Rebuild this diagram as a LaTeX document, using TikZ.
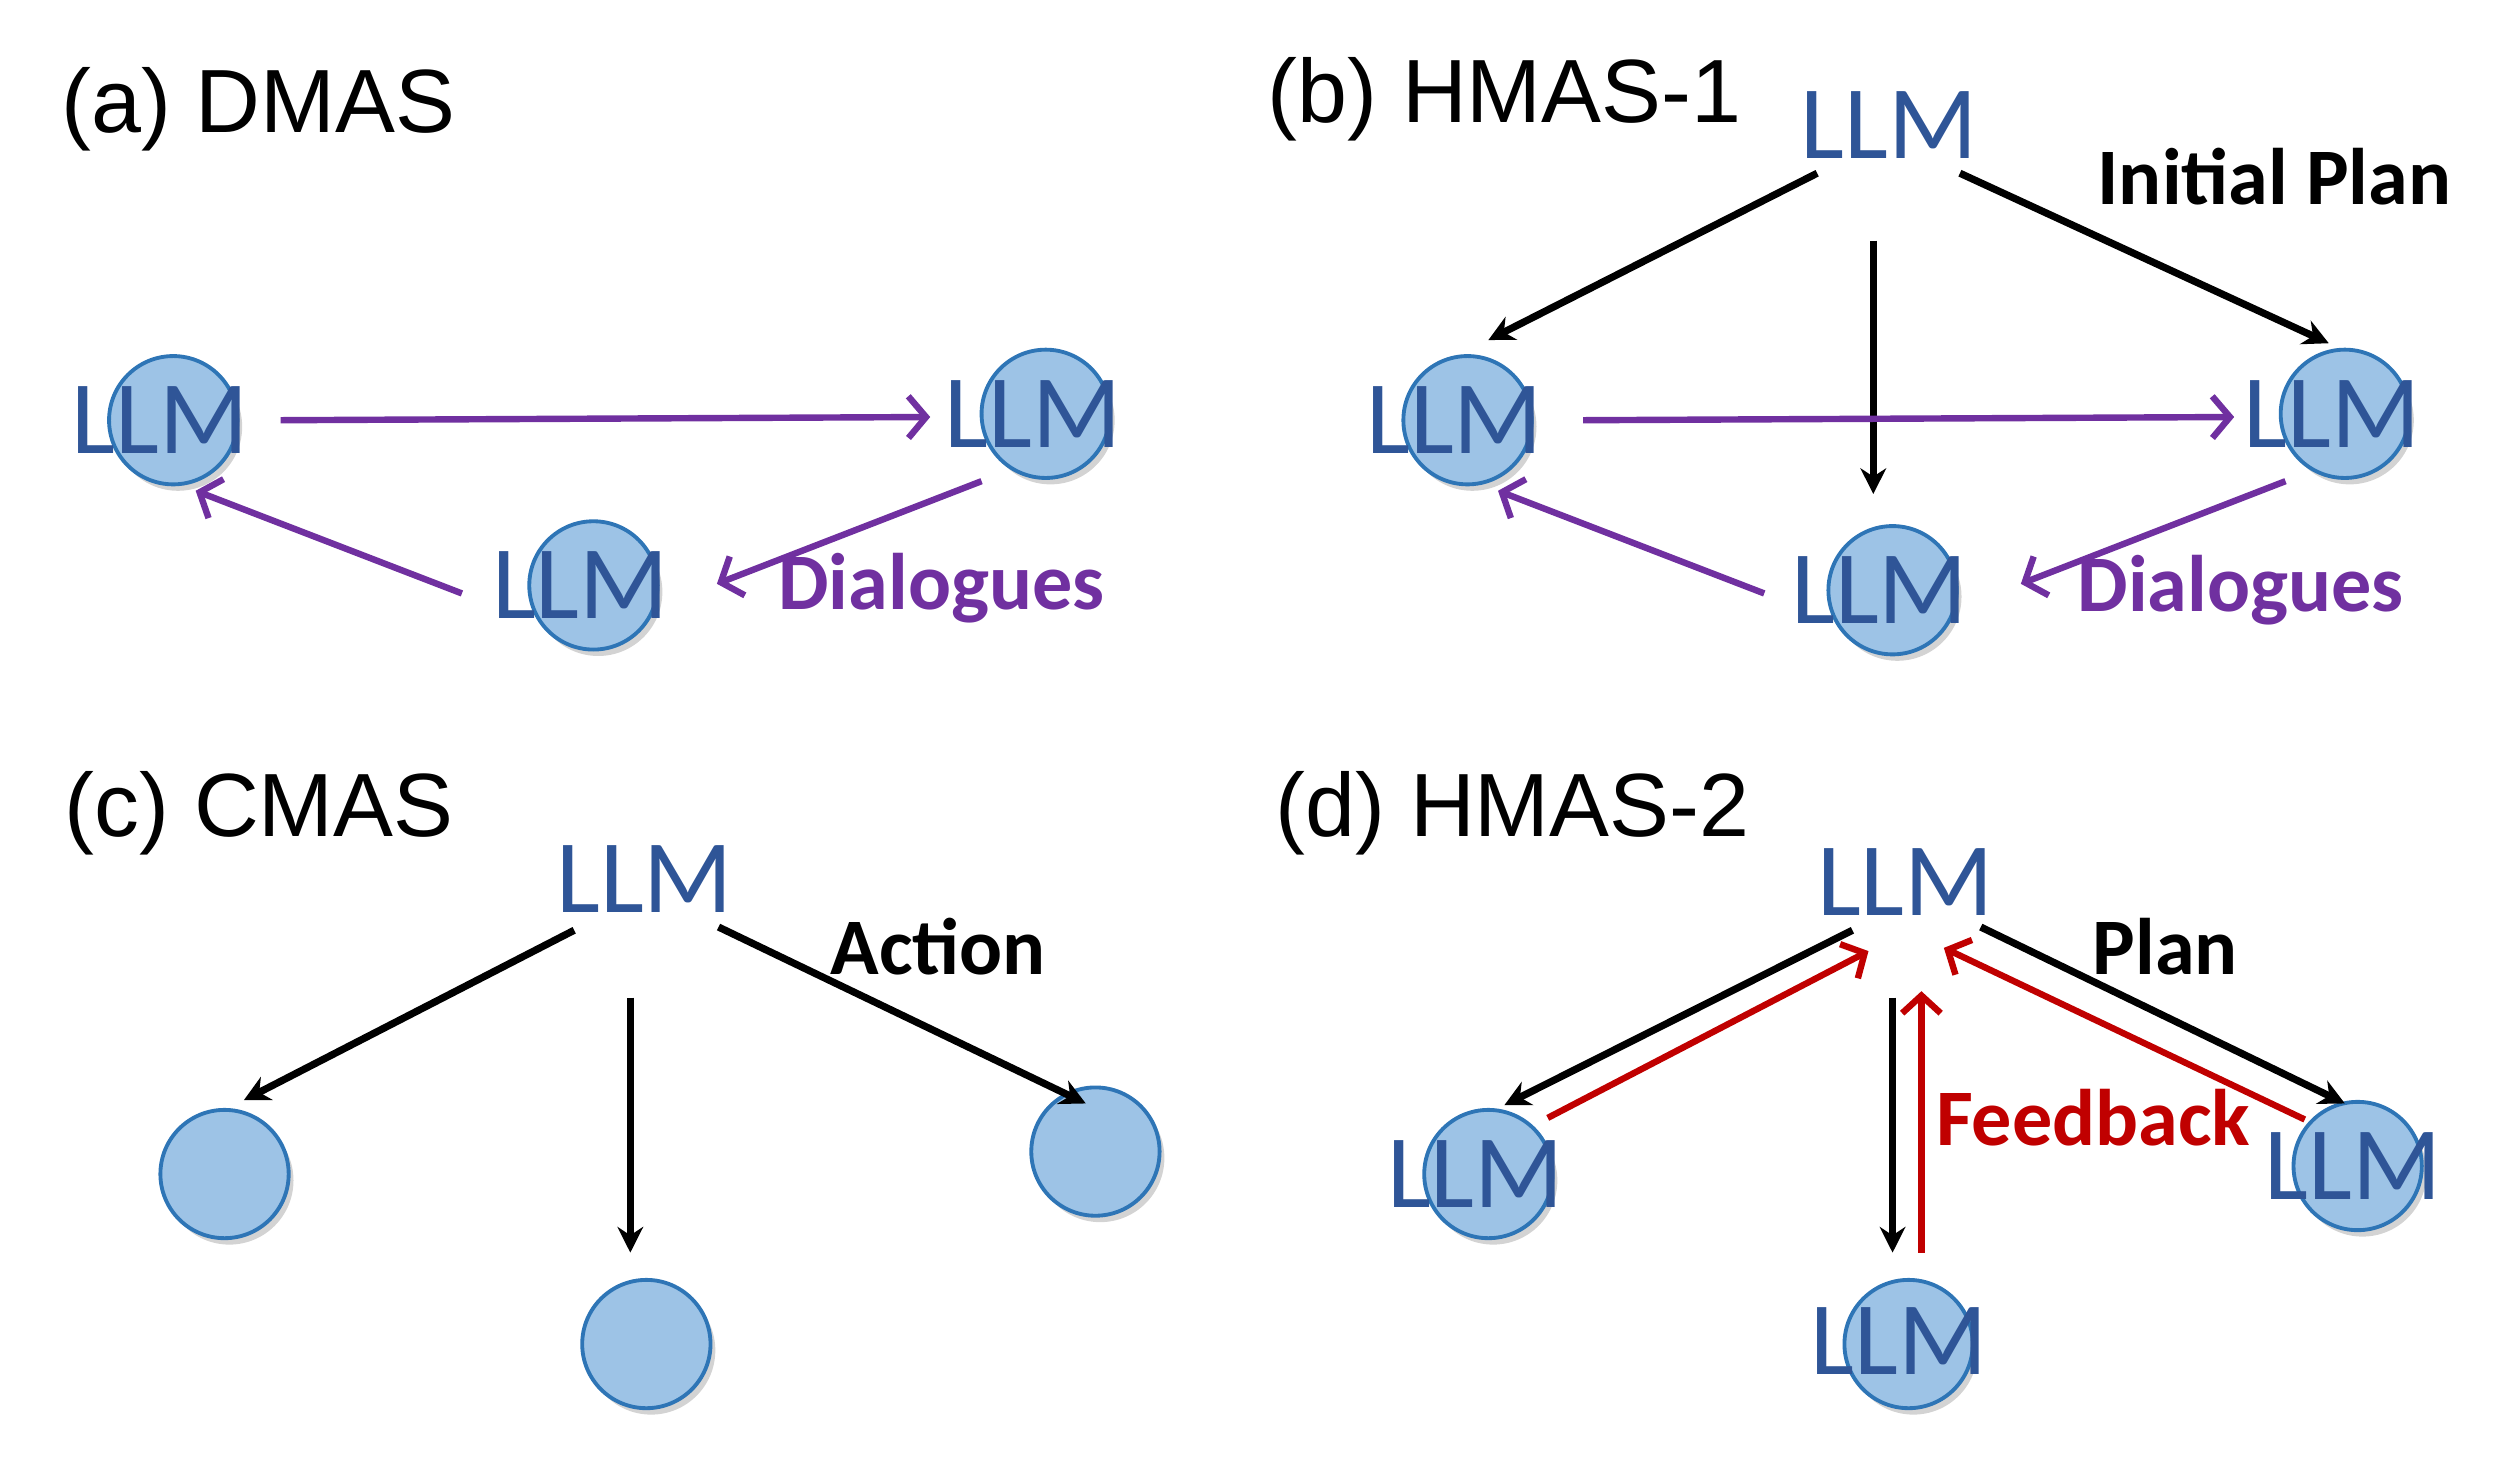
\documentclass[tikz,border=0pt]{standalone}
\usepackage{fontspec}
\setmainfont{Carlito}
\newfontfamily\arialf{Liberation Sans}
\usetikzlibrary{shadows,arrows.meta}
\definecolor{cfill}{HTML}{9DC3E6}
\definecolor{cedge}{HTML}{2E75B6}
\definecolor{llmc}{HTML}{2F5597}
\definecolor{purp}{HTML}{7030A0}
\definecolor{redc}{HTML}{C00000}
\begin{document}
\begin{tikzpicture}[x=1pt,y=-1pt,
 circ/.style={circle,draw=cedge,line width=2.4pt,fill=cfill,minimum size=80pt,inner sep=0,drop shadow={shadow xshift=3pt,shadow yshift=-4pt,opacity=0.35}},
 llm/.style={text=llmc,font=\fontsize{65}{65}\selectfont,inner sep=0},
 title/.style={font=\arialf\fontsize{56}{56}\selectfont,anchor=west,inner sep=0},
 blk/.style={line width=4.5pt,-{Stealth[length=16pt,width=16pt]}},
 pur/.style={line width=4pt,purp,-{Straight Barb[length=11pt,width=26pt,line width=4pt]}},
 red/.style={line width=4pt,redc,-{Straight Barb[length=11pt,width=24pt,line width=4pt]}},
 lab/.style={font=\bfseries\fontsize{50}{50}\selectfont,inner sep=0}]
\useasboundingbox (0,0) rectangle (1560,914);
% titles
\node[title] (ta) at (38,68) {(a) DMAS};
\node[title] (tb) at (790,62) {(b) HMAS-1};
\node[title] (tc) at (40,507) {(c) CMAS};
\node[title] (td) at (795,507) {(d) HMAS-2};
% (a)
\node[circ] (a1) at (108,262) {}; \node[llm] (a1t) at (100,262) {LLM};
\node[circ] (a2) at (652,258) {}; \node[llm] (a2t) at (644,258) {LLM};
\node[circ] (a3) at (370,365) {}; \node[llm] (a3t) at (362,365) {LLM};
\coordinate (a12s) at (175,262); \coordinate (a12e) at (580,260);
\coordinate (a23s) at (612,300); \coordinate (a23e) at (447,364);
\coordinate (a31s) at (288,370); \coordinate (a31e) at (122,306);
\draw[pur] (a12s) -- (a12e);
\draw[pur] (a23s) -- (a23e);
\draw[pur] (a31s) -- (a31e);
\node[lab,text=purp] (dla) at (587,367) {Dialogues};
% (b)
\node[llm] (b0) at (1178,78) {LLM};
\node[circ] (b1) at (915,262) {}; \node[llm] (b1t) at (907,262) {LLM};
\node[circ] (b2) at (1462,258) {}; \node[llm] (b2t) at (1454,258) {LLM};
\node[circ] (b3) at (1180,368) {}; \node[llm] (b3t) at (1172,368) {LLM};
\coordinate (bs1) at (1133,108); \coordinate (be1) at (928,212);
\coordinate (bs2) at (1168,150); \coordinate (be2) at (1168,308);
\coordinate (bs3) at (1222,108); \coordinate (be3) at (1452,214);
\draw[blk] (bs1) -- (be1); \draw[blk] (bs2) -- (be2); \draw[blk] (bs3) -- (be3);
\coordinate (b12s) at (987,262); \coordinate (b12e) at (1393,260);
\coordinate (b23s) at (1425,300); \coordinate (b23e) at (1260,364);
\coordinate (b31s) at (1100,370); \coordinate (b31e) at (934,306);
\draw[pur] (b12s) -- (b12e);
\draw[pur] (b23s) -- (b23e);
\draw[pur] (b31s) -- (b31e);
\node[lab] (ip) at (1418,110) {Initial Plan};
\node[lab,text=purp] (dlb) at (1397,368) {Dialogues};
% (c)
\node[llm] (c0) at (402,548) {LLM};
\node[circ] (c1) at (140,732) {};
\node[circ] (c2) at (683,718) {};
\node[circ] (c3) at (403,838) {};
\coordinate (cs1) at (358,580); \coordinate (ce1) at (152,686);
\coordinate (cs2) at (393,622); \coordinate (ce2) at (393,781);
\coordinate (cs3) at (448,578); \coordinate (ce3) at (677,688);
\draw[blk] (cs1) -- (ce1); \draw[blk] (cs2) -- (ce2); \draw[blk] (cs3) -- (ce3);
\node[lab] (act) at (585,590) {Action};
% (d)
\node[llm] (d0) at (1188,550) {LLM};
\node[circ] (d1) at (928,732) {}; \node[llm] (d1t) at (920,732) {LLM};
\node[circ] (d2) at (1470,727) {}; \node[llm] (d2t) at (1467,727) {LLM};
\node[circ] (d3) at (1190,838) {}; \node[llm] (d3t) at (1184,836) {LLM};
\coordinate (ds1) at (1155,580); \coordinate (de1) at (938,689);
\coordinate (ds2) at (1180,622); \coordinate (de2) at (1180,781);
\coordinate (ds3) at (1235,578); \coordinate (de3) at (1462,688);
\draw[blk] (ds1) -- (de1); \draw[blk] (ds2) -- (de2); \draw[blk] (ds3) -- (de3);
\coordinate (rs1) at (965,697); \coordinate (re1) at (1165,593);
\coordinate (rs2) at (1198,781); \coordinate (re2) at (1198,618);
\coordinate (rs3) at (1437,698); \coordinate (re3) at (1212,591);
\draw[red] (rs1) -- (re1); \draw[red] (rs2) -- (re2); \draw[red] (rs3) -- (re3);
\node[lab,text=redc] (fb) at (1305,697) {Feedback};
\node[lab] (pl) at (1350,590) {Plan};
\end{tikzpicture}
\end{document}
